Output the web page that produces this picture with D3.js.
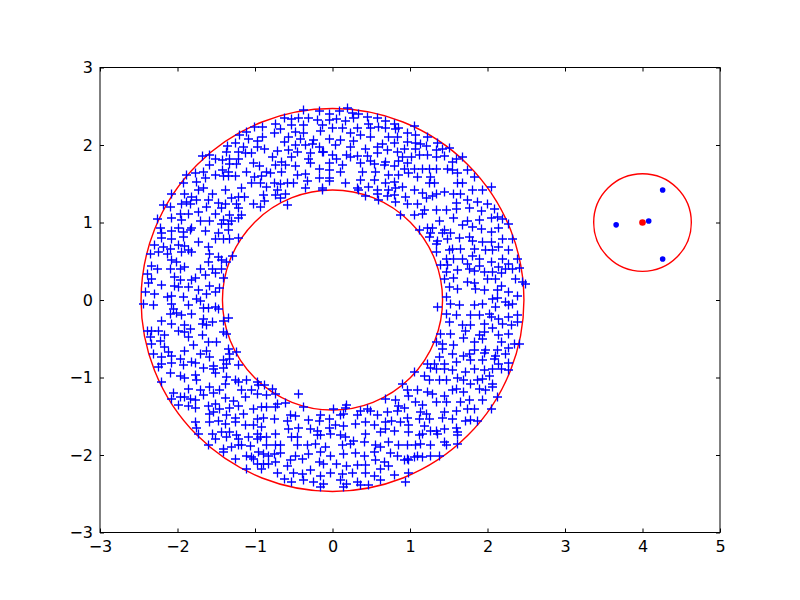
<!DOCTYPE html>
<html>
<head>
<meta charset="utf-8">
<script src="https://cdn.jsdelivr.net/npm/d3@7"></script>
<style>
  body { margin: 0; background: #fff; }
  svg { display: block; }
  .tick text { font-family: "DejaVu Sans", sans-serif; font-size: 16px; fill: #000; }
  .tick line { stroke: #000; stroke-width: 1; }
</style>
</head>
<body>
<script>
// axis ticks
var xTicks = [-3, -2, -1, 0, 1, 2, 3, 4, 5];
var yTicks = [-3, -2, -1, 0, 1, 2, 3];

// circles drawn in red: [cx, cy, radius]
var redCircles = [[0, 0, 2.47], [0, 0, 1.42], [4, 1, 0.63]];

// the red centre point of the small circle and the blue points around it
var centerPoint = [4, 1];
var dotPoints = [[4.26, 1.42], [3.66, 0.97], [4.08, 1.02], [4.26, 0.53]];

// the "+" points of the ring
var plusPoints = [
  // top left
  [-0.91,2.24],[-1.01,2.24],[-1.11,2.18],[-1.21,2.13],[-0.91,2.11],[-0.98,2.06],[-1.09,2.08],[-1.36,1.99],
  [-1.26,2.03],[-1.16,1.98],[-0.98,1.98],[-0.88,1.96],[-1.38,1.92],[-1.22,1.91],[-1.13,1.90],[-1.05,1.90],
  [-1.68,1.86],[-1.60,1.88],[-1.51,1.82],[-1.42,1.81],[-1.33,1.82],[-1.22,1.83],[-1.60,1.75],[-1.33,1.76],
  [-1.24,1.76],[-1.03,1.78],[-0.95,1.73],[-1.78,1.65],[-1.67,1.66],[-1.43,1.68],[-1.35,1.66],[-1.11,1.66],
  [-0.86,1.66],[-1.89,1.62],[-1.51,1.62],[-1.41,1.61],[-1.35,1.61],[-1.26,1.61],[-1.01,1.59],[-0.92,1.61],
  [-1.93,1.51],[-1.76,1.53],[-1.65,1.58],[-1.05,1.51],[-0.94,1.51],[-1.74,1.42],[-1.67,1.45],[-1.39,1.43],
  [-1.18,1.45],[-0.86,1.47],[-2.08,1.38],[-1.91,1.38],[-1.82,1.34],[-1.56,1.38],[-1.31,1.32],[-1.22,1.34],
  [-1.14,1.33],[-0.90,1.36],[-1.89,1.27],[-1.76,1.30],[-1.61,1.30],[-1.48,1.26],[-1.39,1.25],[-1.24,1.25],
  [-1.03,1.25],[-0.88,1.29],[-2.19,1.23],[-2.10,1.21],[-1.95,1.25],[-1.84,1.25],[-1.63,1.21],[-1.44,1.19],
  [-1.22,1.19],[-0.94,1.21],[-1.97,1.12],[-1.87,1.12],[-1.74,1.14],[-1.52,1.12],[-1.33,1.10],[-1.18,1.10],
  [-2.27,1.05],[-2.08,1.06],[-1.95,1.04],[-1.71,1.03],[-1.59,1.03],[-1.41,1.04],[-1.31,1.03],[-1.22,1.06],
  [-2.23,0.93],[-1.99,0.94],[-1.82,0.93],[-1.44,0.99],[-1.35,0.99],[-2.21,0.87],[-2.08,0.90],[-1.93,0.89],
  [-1.84,0.91],[-1.65,0.90],[-1.48,0.87],[-1.35,0.91],
  // top middle
  [-0.38,2.46],[-0.18,2.45],[-0.05,2.41],[0.19,2.48],[0.09,2.45],[0.25,2.42],[0.33,2.41],[0.44,2.37],
  [0.57,2.35],[0.68,2.31],[0.79,2.28],[-0.63,2.35],[-0.54,2.34],[-0.44,2.35],[-0.31,2.35],[-0.20,2.33],
  [-0.05,2.33],[0.05,2.34],[0.16,2.32],[0.27,2.35],[0.46,2.28],[0.59,2.24],[0.68,2.22],[-0.74,2.28],
  [-0.53,2.26],[-0.38,2.26],[-0.14,2.26],[-0.01,2.22],[0.12,2.23],[0.32,2.23],[0.48,2.22],[0.81,2.21],
  [0.85,2.22],[-0.68,2.21],[-0.48,2.18],[-0.38,2.16],[-0.16,2.19],[0.23,2.16],[0.36,2.13],[0.48,2.11],
  [0.72,2.11],[0.83,2.11],[-0.76,2.16],[-0.57,2.11],[-0.42,2.09],[-0.25,2.07],[-0.27,2.02],[-0.05,2.09],
  [0.10,2.07],[0.27,2.06],[0.64,2.02],[0.79,2.03],[-0.63,2.04],[-0.48,2.01],[-0.35,2.01],[-0.18,1.98],
  [-0.12,1.92],[0.03,2.01],[0.23,1.98],[0.42,1.96],[0.57,1.98],[0.70,1.94],[-0.72,1.93],[-0.57,1.94],
  [-0.46,1.92],[-0.29,1.90],[-0.14,1.91],[-0.01,1.88],[0.18,1.88],[0.31,1.86],[0.44,1.86],[0.57,1.90],
  [0.83,1.92],[-0.78,1.85],[-0.66,1.79],[-0.53,1.85],[-0.31,1.83],[0.05,1.83],[0.23,1.85],[0.48,1.80],
  [0.68,1.79],[0.85,1.80],[-0.74,1.75],[-0.61,1.75],[-0.48,1.73],[-0.29,1.77],[-0.05,1.78],[0.12,1.75],
  [0.36,1.77],[0.53,1.76],[0.66,1.75],[0.79,1.73],[-0.81,1.64],[-0.66,1.66],[-0.46,1.62],[-0.35,1.63],
  [-0.18,1.70],[-0.05,1.68],[0.10,1.66],[0.38,1.66],[0.55,1.66],[0.72,1.62],[0.85,1.62],[-0.76,1.51],
  [-0.68,1.50],[-0.59,1.51],[-0.51,1.51],[-0.33,1.54],[-0.18,1.58],[-0.05,1.58],[-0.05,1.54],[0.16,1.52],
  [0.36,1.56],[0.53,1.55],[0.68,1.52],[0.79,1.53],[-0.72,1.42],[-0.35,1.45],[-0.14,1.45],[-0.14,1.42],
  [0.31,1.45],[0.33,1.42],[0.46,1.47],[0.57,1.43],[0.72,1.42],[0.81,1.45],[-0.74,1.36],[-0.61,1.37],
  [0.42,1.35],[0.57,1.37],[0.70,1.35],[0.79,1.36],[-0.68,1.32],[0.59,1.30],[0.81,1.27],[-0.59,1.23],
  [0.87,1.10],
  // top right
  [1.05,2.25],[0.96,2.16],[1.07,2.13],[1.22,2.11],[0.96,2.04],[1.06,2.03],[1.13,2.02],[1.20,1.99],
  [1.35,2.03],[0.92,1.96],[1.07,1.96],[1.33,1.94],[1.41,1.95],[1.50,1.97],[0.90,1.85],[1.01,1.85],
  [1.11,1.88],[1.22,1.88],[1.33,1.85],[1.44,1.86],[1.59,1.83],[1.67,1.85],[0.96,1.77],[1.54,1.79],
  [0.92,1.70],[1.05,1.70],[1.16,1.70],[1.24,1.70],[1.33,1.70],[1.48,1.70],[1.54,1.68],[1.61,1.64],
  [1.74,1.68],[0.98,1.64],[1.09,1.60],[1.26,1.60],[1.82,1.60],[1.24,1.51],[1.31,1.51],[1.61,1.52],
  [1.67,1.51],[0.90,1.47],[1.05,1.42],[1.16,1.39],[1.33,1.37],[1.44,1.40],[1.56,1.37],[1.65,1.38],
  [1.80,1.43],[1.93,1.42],[2.04,1.47],[0.94,1.34],[1.20,1.32],[1.28,1.35],[1.59,1.26],[1.74,1.30],
  [1.87,1.27],[1.99,1.25],[0.96,1.25],[1.09,1.25],[1.18,1.17],[1.33,1.17],[1.46,1.17],[1.59,1.18],
  [1.76,1.19],[1.91,1.15],[2.08,1.18],[2.12,1.08],[1.05,1.10],[1.16,1.12],[1.37,1.03],[1.56,1.06],
  [1.74,1.03],[1.89,1.04],[2.04,1.07],[2.19,1.05],[2.27,0.99],[1.22,0.94],[1.11,0.91],[1.28,0.93],
  [1.44,0.91],[1.67,0.97],[1.80,0.95],[1.91,0.92],[2.04,0.89],[2.14,0.93],[1.52,0.87],[1.41,0.87],
  [1.26,0.87],
  // middle left
  [-2.21,0.81],[-2.08,0.80],[-1.93,0.82],[-1.74,0.76],[-1.52,0.79],[-1.41,0.80],[-1.34,0.79],[-1.22,0.81],
  [-2.30,0.72],[-2.19,0.69],[-2.10,0.67],[-1.99,0.71],[-1.91,0.70],[-1.87,0.65],[-1.61,0.69],[-1.59,0.60],
  [-1.48,0.56],[-1.30,0.57],[-2.36,0.60],[-2.25,0.62],[-2.14,0.60],[-1.95,0.62],[-1.82,0.62],[-1.44,0.52],
  [-1.37,0.50],[-2.08,0.52],[-2.02,0.50],[-1.61,0.50],[-2.34,0.45],[-2.27,0.41],[-2.10,0.41],[-1.97,0.41],
  [-1.91,0.43],[-1.71,0.41],[-1.56,0.41],[-1.44,0.41],[-2.40,0.34],[-2.34,0.28],[-2.04,0.30],[-1.97,0.27],
  [-1.82,0.27],[-1.78,0.29],[-1.65,0.33],[-1.52,0.36],[-1.41,0.29],[-2.38,0.22],[-2.21,0.20],[-2.04,0.19],
  [-1.99,0.17],[-1.87,0.17],[-1.74,0.13],[-1.59,0.19],[-1.46,0.16],[-2.42,0.11],[-2.30,0.09],[-2.14,0.04],
  [-2.08,0.06],[-1.93,0.04],[-1.76,0.02],[-1.63,0.09],[-1.52,0.11],[-2.45,-0.04],[-2.32,-0.06],[-2.08,-0.04],
  [-2.06,-0.11],[-1.87,-0.06],[-1.71,0.00],[-1.67,-0.10],[-1.61,-0.10],[-1.52,-0.09],[-1.48,-0.11],[-2.10,-0.17],
  [-2.02,-0.16],[-1.95,-0.19],[-1.82,-0.17],[-1.67,-0.24],[-1.35,-0.23],[-2.21,-0.26],[-2.08,-0.30],[-1.91,-0.32],
  [-1.84,-0.37],[-1.69,-0.30],[-1.63,-0.32],[-1.56,-0.28],[-1.41,-0.27],[-2.40,-0.39],[-2.34,-0.39],[-2.25,-0.39],
  [-2.17,-0.45],[-1.99,-0.39],[-1.91,-0.41],[-1.41,-0.41],[-1.37,-0.43],[-2.36,-0.47],[-2.23,-0.52],[-1.87,-0.47],
  [-1.69,-0.45],[-1.50,-0.54],[-1.61,-0.54],[-2.34,-0.56],[-2.17,-0.60],[-2.12,-0.66],[-1.91,-0.65],[-1.80,-0.58],
  [-1.71,-0.69],[-1.63,-0.65],[-1.35,-0.62],[-1.33,-0.69],[-1.24,-0.67],[-2.32,-0.69],[-2.21,-0.73],[-2.08,-0.71],
  [-1.97,-0.75],[-1.82,-0.79],[-1.59,-0.73],[-1.41,-0.77],[-1.33,-0.76],[-2.21,-0.82],[-2.08,-0.80],[-1.93,-0.83],
  [-1.78,-0.80],[-1.54,-0.84],[-1.37,-0.82],[-1.22,-0.83],
  // middle right
  [1.24,0.82],[1.35,0.77],[1.48,0.80],[1.63,0.81],[1.76,0.82],[1.80,0.77],[1.93,0.75],[2.04,0.76],
  [2.19,0.80],[2.32,0.79],[1.33,0.73],[1.54,0.67],[1.50,0.65],[1.65,0.67],[1.82,0.67],[1.97,0.65],
  [2.06,0.65],[2.14,0.69],[2.27,0.65],[1.33,0.62],[1.46,0.54],[1.56,0.54],[1.67,0.53],[1.80,0.58],
  [1.89,0.53],[2.04,0.50],[2.19,0.54],[2.27,0.47],[2.38,0.53],[1.39,0.46],[1.48,0.46],[1.74,0.47],
  [1.76,0.41],[1.89,0.45],[2.14,0.43],[2.23,0.41],[2.32,0.41],[2.40,0.42],[1.46,0.37],[1.61,0.39],
  [1.82,0.38],[1.95,0.37],[2.06,0.37],[2.17,0.35],[2.36,0.28],[2.45,0.24],[1.44,0.28],[1.56,0.29],
  [1.74,0.24],[1.82,0.22],[1.99,0.28],[2.10,0.28],[2.17,0.19],[2.49,0.21],[1.50,0.17],[1.61,0.15],
  [1.84,0.15],[1.95,0.13],[2.12,0.13],[2.27,0.11],[2.38,0.06],[1.46,0.04],[2.06,0.02],[2.12,0.03],
  [2.23,-0.02],[2.32,-0.04],[1.35,-0.09],[1.52,-0.04],[1.63,-0.06],[1.82,-0.06],[1.93,-0.04],[2.10,-0.09],
  [2.27,-0.06],[1.46,-0.17],[1.59,-0.19],[1.78,-0.19],[1.89,-0.19],[2.02,-0.17],[2.04,-0.21],[2.14,-0.24],
  [2.27,-0.21],[2.38,-0.19],[1.50,-0.28],[1.67,-0.31],[1.78,-0.32],[1.95,-0.30],[2.19,-0.30],[2.30,-0.32],
  [2.38,-0.28],[1.39,-0.43],[1.52,-0.43],[1.71,-0.39],[1.89,-0.45],[1.95,-0.41],[2.06,-0.36],[2.14,-0.45],
  [2.27,-0.43],[1.33,-0.54],[1.41,-0.56],[1.69,-0.49],[1.82,-0.54],[1.93,-0.50],[2.17,-0.54],[2.34,-0.56],
  [2.40,-0.56],[1.41,-0.62],[1.56,-0.58],[1.82,-0.64],[1.97,-0.64],[2.12,-0.64],[2.27,-0.61],[1.37,-0.73],
  [1.54,-0.69],[1.69,-0.71],[1.76,-0.69],[1.95,-0.68],[2.10,-0.71],[2.23,-0.69],[1.22,-0.82],[1.31,-0.82],
  [1.44,-0.82],[1.59,-0.79],[1.78,-0.77],[1.93,-0.77],[2.08,-0.75],[2.14,-0.82],[2.27,-0.80],
  // bottom left
  [-2.25,-0.86],[-2.10,-0.93],[-1.97,-0.98],[-1.91,-1.00],[-1.78,-0.96],[-1.76,-1.03],[-1.67,-0.87],[-1.54,-0.88],
  [-1.52,-0.93],[-1.41,-0.87],[-1.37,-0.99],[-1.26,-1.03],[-1.22,-1.05],[-1.11,-1.03],[-0.98,-1.05],[-2.21,-1.05],
  [-1.87,-1.14],[-1.71,-1.16],[-1.59,-1.12],[-1.46,-1.15],[-1.39,-1.08],[-1.18,-1.16],[-1.05,-1.15],[-0.96,-1.09],
  [-0.88,-1.09],[-2.06,-1.19],[-1.97,-1.24],[-1.91,-1.25],[-1.84,-1.27],[-1.78,-1.28],[-1.67,-1.22],[-1.54,-1.19],
  [-1.52,-1.33],[-1.39,-1.26],[-1.28,-1.30],[-1.13,-1.24],[-0.98,-1.21],[-0.86,-1.22],[-2.08,-1.27],[-1.99,-1.35],
  [-1.87,-1.36],[-1.78,-1.39],[-1.61,-1.36],[-1.46,-1.40],[-1.33,-1.39],[-1.22,-1.36],[-1.03,-1.40],[-0.92,-1.38],
  [-0.86,-1.38],[-1.59,-1.46],[-1.54,-1.44],[-1.37,-1.48],[-1.26,-1.51],[-1.16,-1.46],[-0.98,-1.53],[-0.90,-1.51],
  [-1.78,-1.57],[-1.59,-1.57],[-1.48,-1.55],[-1.39,-1.59],[-1.26,-1.57],[-1.13,-1.61],[-1.03,-1.60],[-0.92,-1.63],
  [-1.76,-1.65],[-1.74,-1.72],[-1.56,-1.72],[-1.44,-1.70],[-1.33,-1.70],[-1.24,-1.73],[-0.98,-1.72],[-0.94,-1.76],
  [-0.86,-1.76],[-1.52,-1.79],[-1.37,-1.76],[-1.22,-1.79],[-1.09,-1.76],[-0.98,-1.79],[-1.61,-1.87],[-1.41,-1.91],
  [-1.31,-1.89],[-1.22,-1.87],[-1.18,-1.87],[-1.07,-1.88],[-0.96,-1.95],[-0.86,-1.87],[-1.41,-1.95],[-1.11,-2.00],
  [-1.05,-2.02],[-0.90,-1.98],[-0.83,-2.00],[-1.26,-2.05],[-1.03,-2.05],[-0.98,-2.11],[-0.90,-2.11],[-0.83,-2.11],
  [-1.11,-2.17],[-0.92,-2.17],
  // bottom middle
  [-0.78,-1.14],[-0.74,-1.21],[-0.45,-1.21],[-0.72,-1.33],[-0.61,-1.32],[-0.38,-1.38],[-0.16,-1.48],[0.01,-1.40],
  [0.18,-1.35],[0.16,-1.39],[0.36,-1.42],[0.44,-1.40],[0.68,-1.27],[0.81,-1.29],[0.85,-1.36],[-0.74,-1.38],
  [-0.55,-1.48],[-0.48,-1.49],[-0.31,-1.54],[-0.18,-1.55],[-0.05,-1.53],[0.10,-1.48],[0.14,-1.46],[0.31,-1.48],
  [0.48,-1.42],[0.57,-1.48],[0.70,-1.44],[0.83,-1.42],[-0.76,-1.53],[-0.59,-1.55],[-0.44,-1.64],[-0.29,-1.66],
  [-0.20,-1.68],[-0.05,-1.64],[0.03,-1.61],[0.14,-1.62],[0.29,-1.59],[0.42,-1.57],[0.53,-1.61],[0.68,-1.57],
  [0.76,-1.55],[0.87,-1.57],[-0.57,-1.66],[-0.74,-1.72],[-0.53,-1.76],[-0.46,-1.76],[-0.20,-1.74],[-0.16,-1.74],
  [-0.03,-1.72],[0.10,-1.74],[0.16,-1.76],[0.27,-1.81],[0.42,-1.72],[0.61,-1.70],[0.68,-1.66],[0.79,-1.68],
  [-0.74,-1.87],[-0.68,-1.87],[-0.46,-1.87],[-0.33,-1.87],[-0.23,-1.85],[-0.10,-1.89],[0.12,-1.87],[0.23,-1.85],
  [0.40,-1.83],[0.55,-1.87],[0.72,-1.83],[0.85,-1.87],[-0.76,-1.98],[-0.68,-1.97],[-0.48,-2.00],[-0.31,-1.98],
  [-0.16,-1.95],[-0.03,-2.00],[0.14,-1.98],[0.29,-1.97],[0.40,-2.00],[0.53,-1.96],[0.61,-1.89],[0.74,-1.97],
  [0.83,-2.00],[-0.74,-2.09],[-0.55,-2.06],[-0.40,-2.05],[-0.18,-2.09],[-0.12,-2.11],[0.05,-2.11],[0.18,-2.13],
  [0.31,-2.12],[0.42,-2.12],[0.55,-2.06],[0.66,-2.09],[0.72,-2.13],[-0.72,-2.22],[-0.59,-2.13],[-0.51,-2.22],
  [-0.40,-2.24],[-0.29,-2.19],[-0.16,-2.26],[-0.03,-2.22],[0.12,-2.24],[0.25,-2.22],[0.42,-2.22],[0.53,-2.26],
  [0.61,-2.17],[0.79,-2.25],[-0.63,-2.30],[-0.53,-2.34],[-0.38,-2.32],[-0.25,-2.34],[-0.12,-2.37],[0.10,-2.32],
  [0.18,-2.37],[0.31,-2.34],[0.46,-2.38],[0.61,-2.32],[-0.16,-2.40],[0.14,-2.40],[0.36,-2.38],
  // bottom right
  [1.05,-0.92],[1.26,-0.87],[1.33,-0.89],[1.44,-0.88],[1.54,-0.90],[1.71,-0.92],[1.82,-0.89],[1.95,-0.90],
  [2.06,-0.89],[2.17,-0.89],[2.27,-0.90],[1.18,-0.97],[1.24,-1.03],[1.37,-1.03],[1.46,-1.03],[1.61,-1.00],
  [1.69,-1.03],[1.78,-1.08],[1.87,-1.03],[1.93,-1.01],[2.02,-0.97],[2.06,-1.08],[0.90,-1.08],[0.96,-1.16],
  [1.09,-1.16],[1.22,-1.18],[1.28,-1.21],[1.44,-1.23],[1.54,-1.16],[1.59,-1.14],[1.69,-1.18],[1.89,-1.14],
  [1.97,-1.16],[2.06,-1.12],[0.98,-1.23],[1.07,-1.31],[1.16,-1.35],[1.33,-1.31],[1.46,-1.31],[1.65,-1.31],
  [1.76,-1.29],[1.93,-1.29],[2.12,-1.25],[0.92,-1.39],[1.13,-1.44],[1.20,-1.46],[1.44,-1.44],[1.59,-1.42],
  [1.74,-1.40],[1.82,-1.40],[2.04,-1.40],[0.96,-1.51],[1.11,-1.53],[1.24,-1.53],[1.41,-1.51],[1.54,-1.53],
  [1.71,-1.55],[1.78,-1.54],[1.87,-1.55],[0.98,-1.61],[1.18,-1.62],[1.26,-1.68],[1.33,-1.68],[1.44,-1.66],
  [1.59,-1.64],[1.61,-1.70],[0.98,-1.70],[1.11,-1.74],[1.16,-1.72],[1.35,-1.72],[1.61,-1.74],[0.96,-1.87],
  [1.07,-1.87],[1.13,-1.85],[1.26,-1.87],[1.44,-1.83],[1.46,-1.87],[1.61,-1.85],[0.96,-2.04],[1.09,-2.01],
  [1.16,-2.02],[1.26,-2.00],[1.37,-2.00],[0.92,-2.06],[0.98,-2.06],[1.05,-2.02],[0.98,-2.22],[0.94,-2.34]
];

window.onload = function() {
    var margin = {top: 67.5, right: 80, bottom: 67.5, left: 100},
        width = 800 - margin.left - margin.right,
        height = 600 - margin.top - margin.bottom;

    var svg = d3.select("body")
        .append("svg")
        .attr("width", 800)
        .attr("height", 600);

    var plot = svg.append("g")
        .attr("transform", "translate(" + margin.left + "," + margin.top + ")");

    // equal aspect: 8 units across, 6 units high
    var x = d3.scaleLinear().domain([-3, 5]).range([0, width]);
    var y = d3.scaleLinear().domain([-3, 3]).range([height, 0]);

    // whole numbers with a real minus sign
    var fmt = d3.format("d");

    plot.append("clipPath").attr("id", "clip")
        .append("rect").attr("width", width).attr("height", height);

    var inner = plot.append("g").attr("clip-path", "url(#clip)");

    // red circles
    inner.selectAll(".ring")
        .data(redCircles)
        .enter().append("circle")
        .attr("class", "ring")
        .attr("cx", function(d) { return x(d[0]); })
        .attr("cy", function(d) { return y(d[1]); })
        .attr("r", function(d) { return x(d[2]) - x(0); })
        .style("fill", "none")
        .style("stroke", "#ff0000")
        .style("stroke-width", 1.4);

    // blue plus markers
    inner.selectAll(".plus")
        .data(plusPoints)
        .enter().append("path")
        .attr("class", "plus")
        .attr("d", "M-4.5,0H4.5M0,-4.5V4.5")
        .attr("transform", function(d) {
            return "translate(" + (Math.round(x(d[0])) + 0.5) + "," + (Math.round(y(d[1])) + 0.5) + ")";
        })
        .style("fill", "none")
        .style("stroke", "#0000ff")
        .style("stroke-width", 1.3);

    // red centre dot and blue dots
    inner.append("circle")
        .attr("cx", x(centerPoint[0]))
        .attr("cy", y(centerPoint[1]))
        .attr("r", 3.3)
        .style("fill", "#ff0000");

    inner.selectAll(".dot")
        .data(dotPoints)
        .enter().append("circle")
        .attr("class", "dot")
        .attr("cx", function(d) { return x(d[0]); })
        .attr("cy", function(d) { return y(d[1]); })
        .attr("r", 2.8)
        .style("fill", "#0000ff");

    // axes, ticks pointing inward on all four sides
    plot.append("g")
        .attr("class", "x axis")
        .attr("transform", "translate(0," + height + ")")
        .call(d3.axisBottom(x).tickValues(xTicks).tickFormat(fmt).tickSizeInner(-4).tickSizeOuter(0).tickPadding(8))
        .select(".domain").remove();

    plot.append("g")
        .attr("class", "x axis top")
        .call(d3.axisTop(x).tickValues(xTicks).tickSizeInner(-4).tickSizeOuter(0).tickFormat(""))
        .select(".domain").remove();

    plot.append("g")
        .attr("class", "y axis")
        .call(d3.axisLeft(y).tickValues(yTicks).tickFormat(fmt).tickSizeInner(-4).tickSizeOuter(0).tickPadding(7))
        .select(".domain").remove();

    plot.append("g")
        .attr("class", "y axis right")
        .attr("transform", "translate(" + width + ",0)")
        .call(d3.axisRight(y).tickValues(yTicks).tickSizeInner(-4).tickSizeOuter(0).tickFormat(""))
        .select(".domain").remove();

    // frame
    plot.append("rect")
        .attr("width", width)
        .attr("height", height)
        .style("fill", "none")
        .style("stroke", "#000")
        .style("stroke-width", 1);
};
</script>
</body>
</html>
